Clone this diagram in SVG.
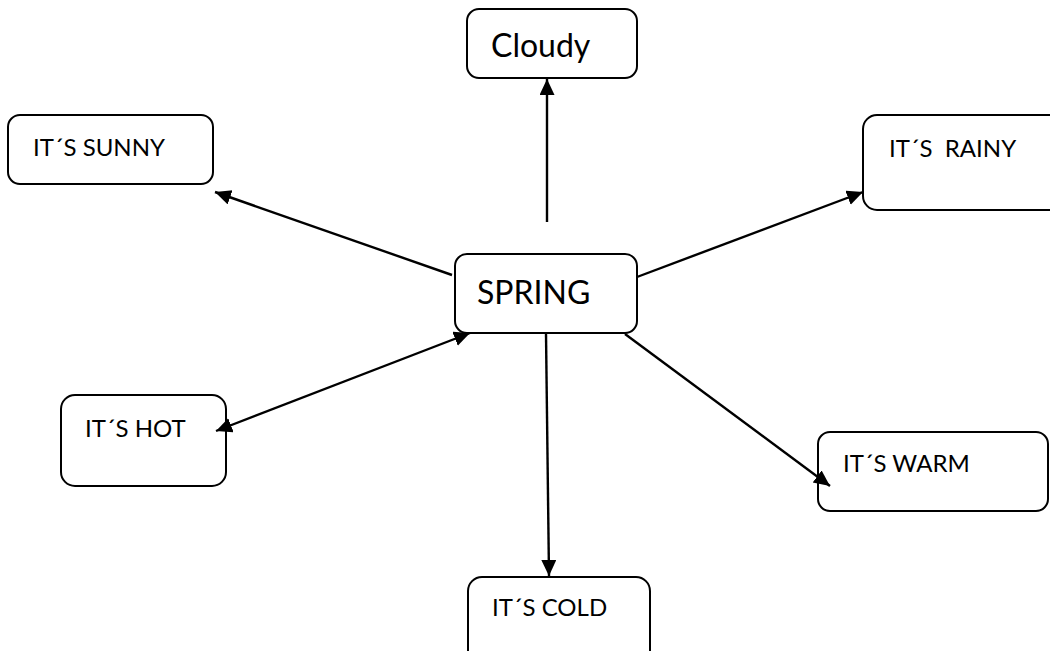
<svg xmlns="http://www.w3.org/2000/svg" width="1050" height="651" viewBox="0 0 1050 651">
<defs>
<marker id="ah" markerUnits="userSpaceOnUse" markerWidth="18" markerHeight="16" refX="16" refY="7.5" orient="auto-start-reverse">
<path d="M0,0 L16,7.5 L0,15 z" fill="#000"/>
</marker>
<style>
.box{fill:#fff;stroke:#000;stroke-width:2}
.t{font-family:Lato,"Open Sans",sans-serif;fill:#000}
.s{font-size:24px}
.b{font-size:32px}
.c line{stroke:#000;stroke-width:2.4}
</style>
</defs>
<rect width="1050" height="651" fill="#fff"/>
<g id="cloudy"><rect class="box" x="467" y="9" width="170" height="69" rx="12"/><text class="t b" x="491" y="57">Cloudy</text></g>
<g id="sunny"><rect class="box" x="8" y="115" width="205" height="69" rx="12"/><text class="t s" x="33" y="156">IT´S SUNNY</text></g>
<g id="rainy"><rect class="box" x="863" y="115" width="200" height="95" rx="14"/><text class="t s" x="889" y="157" xml:space="preserve">IT´S  RAINY</text></g>
<g id="spring"><rect class="box" x="455" y="254" width="182" height="79" rx="12"/><text class="t b" x="477" y="304">SPRING</text></g>
<g id="hot"><rect class="box" x="61" y="395" width="165" height="91" rx="14"/><text class="t s" x="85" y="437">IT´S HOT</text></g>
<g id="warm"><rect class="box" x="818" y="432" width="230" height="79" rx="12"/><text class="t s" x="843" y="472">IT´S WARM</text></g>
<g id="cold"><rect class="box" x="468" y="577" width="182" height="90" rx="14"/><text class="t s" x="492" y="616">IT´S COLD</text></g>
<g id="connectors" class="c">
<line x1="452" y1="275" x2="215" y2="192" marker-end="url(#ah)"/>
<line x1="637" y1="277" x2="863" y2="192" marker-end="url(#ah)"/>
<line x1="547" y1="222" x2="547" y2="79" marker-end="url(#ah)"/>
<line x1="216" y1="431" x2="470" y2="333" marker-start="url(#ah)" marker-end="url(#ah)"/>
<line x1="546" y1="334" x2="549" y2="576" marker-end="url(#ah)"/>
<line x1="625" y1="334" x2="830" y2="486" marker-end="url(#ah)"/>
</g>
</svg>
